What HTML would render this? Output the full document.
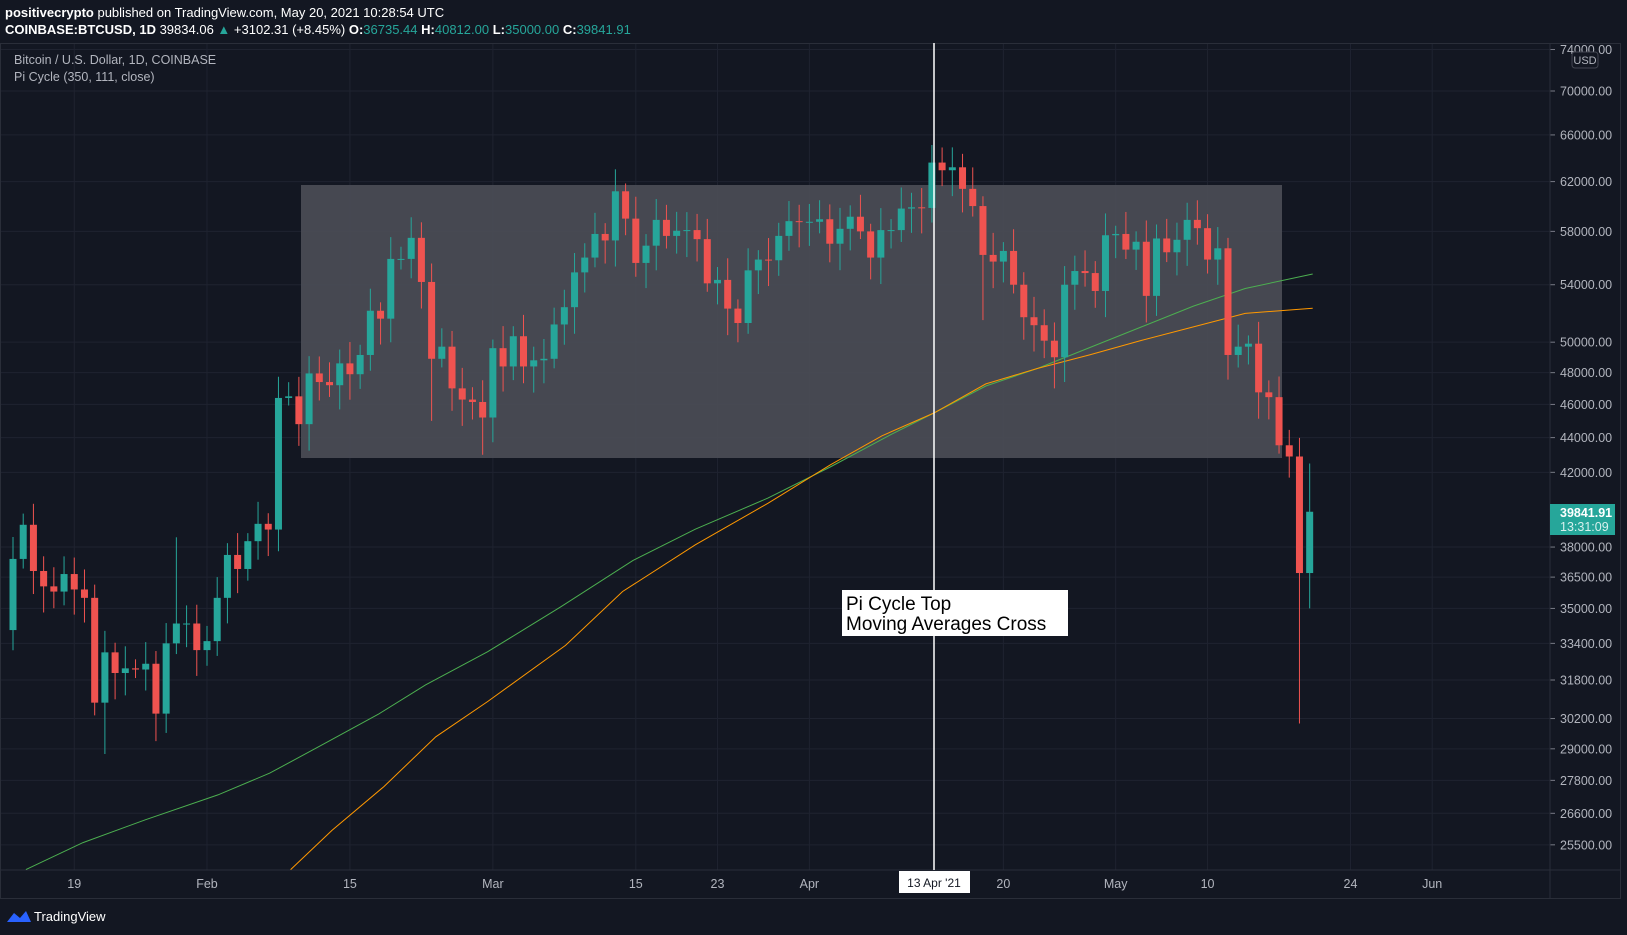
<!DOCTYPE html>
<html><head><meta charset="utf-8"><style>
body{margin:0;background:#131722;width:1627px;height:935px;overflow:hidden;font-family:"Liberation Sans",sans-serif}
svg{position:absolute;left:0;top:0}
</style></head><body>
<svg id="s" width="1627" height="935" xmlns="http://www.w3.org/2000/svg"></svg>
<script>
const S=document.getElementById('s');let h='';
const Y=p=>91+746.5*(Math.log(70000)-Math.log(p));
const X=i=>13+i*10.21;
h+='<rect x="0" y="0" width="1627" height="935" fill="#131722"/>';
const prices=[74000,70000,66000,62000,58000,54000,50000,48000,46000,44000,42000,38000,36500,35000,33400,31800,30200,29000,27800,26600,25500];
prices.forEach(p=>{let y=Y(p);h+=`<line x1="0" x2="1550" y1="${y}" y2="${y}" stroke="#1f2330"/><line x1="1550" x2="1555" y1="${y}" y2="${y}" stroke="#787b86"/><text x="1560" y="${y+4.5}" font-size="12.5" fill="#b2b5be">${p}.00</text>`;});
const dates=[[6,'19'],[19,'Feb'],[33,'15'],[47,'Mar'],[61,'15'],[69,'23'],[78,'Apr'],[97,'20'],[108,'May'],[117,'10'],[131,'24'],[139,'Jun']];
dates.forEach(d=>{let x=X(d[0]);h+=`<line x1="${x}" x2="${x}" y1="43" y2="870" stroke="#1f2330"/><text x="${x}" y="888" font-size="12.5" fill="#b2b5be" text-anchor="middle">${d[1]}</text>`;});
h+='<rect x="0.5" y="43.5" width="1620" height="855" fill="none" stroke="#2a2e39"/><line x1="1550" x2="1550" y1="43" y2="898" stroke="#2a2e39"/><line x1="0" x2="1620" y1="870" y2="870" stroke="#2a2e39"/>';
h+=`<rect x="301" y="185" width="981" height="273" fill="#4b4d56" fill-opacity="0.92"/>`;
const g=[[25,838],[80,812],[140,790],[210,766],[260,745],[310,718],[365,688],[410,660],[470,628],[540,585],[610,540],[670,510],[740,480],[800,450],[860,418],[900,398],[950,372],[1000,355],[1050,335],[1100,315],[1150,295],[1200,278],[1265,264]];
const o=[[280,838],[320,800],[370,758],[420,710],[470,676],[545,622],[600,570],[670,525],[740,485],[800,448],[850,420],[900,398],[950,370],[1000,355],[1050,342],[1100,328],[1150,315],[1200,302],[1265,297]];
const pl=a=>a.map(p=>(p[0]*1.0377).toFixed(1)+','+(p[1]*1.0377).toFixed(1)).join(' ');
h+=`<polyline points="${pl(g)}" fill="none" stroke="#4caf50" stroke-width="1"/><polyline points="${pl(o)}" fill="none" stroke="#ff9800" stroke-width="1"/>`;
const c=[34000,37400,39150,36800,36050,35800,36650,35900,35500,30850,33000,32100,32300,32250,32500,30400,33400,34300,34300,33100,33500,35500,37600,36900,38300,39200,38900,46400,46500,44800,47950,47400,47200,48600,47900,49150,52150,51600,55900,55900,57500,54200,48900,49700,47000,46300,46150,45200,49600,48400,50400,48400,48800,48900,51200,52400,54900,56000,57800,57300,61200,59000,55600,56900,58900,57650,58050,58100,57400,54100,54350,52300,51300,55050,55850,55800,57650,58800,58750,58750,58950,57050,58200,59150,58000,56000,58100,58100,59800,59900,59850,63600,62950,63200,61400,60000,56200,55700,56500,54000,51700,51150,50100,49000,54000,55000,54850,53550,57700,57800,56600,57200,53200,57450,56400,57350,58900,58250,55850,56700,49150,49700,49900,46750,46450,43550,42900,36700,39840];
const wick={16:[38500,null],41:[null,45000],46:[null,43000],91:[64900,null],95:[null,51500],102:[null,47000],126:[null,30000],127:[42500,35000],9:[null,28800],14:[null,29300]};
for(let i=1;i<c.length;i++){let op=c[i-1],cl=c[i],hi=Math.max(op,cl)*(1+0.01+0.02*Math.abs(Math.sin(i*1.7))),lo=Math.min(op,cl)*(1-0.01-0.025*Math.abs(Math.cos(i*2.3)));
let w=wick[i-1];if(w){if(w[0])hi=w[0];if(w[1])lo=w[1];}
let x=X(i-1),col=cl>=op?'#26a69a':'#ef5350',y1=Y(Math.max(op,cl)),y2=Y(Math.min(op,cl));
h+=`<line x1="${x}" x2="${x}" y1="${Y(hi)}" y2="${Y(lo)}" stroke="${col}"/><rect x="${x-3.5}" y="${y1}" width="7" height="${Math.max(1,y2-y1)}" fill="${col}"/>`;}
h+='<line x1="934" x2="934" y1="43" y2="870" stroke="#fff" stroke-width="1.5"/>';
h+='<rect x="899" y="871" width="71" height="22" fill="#fff"/><text x="934" y="887" font-size="12" fill="#131722" text-anchor="middle">13 Apr \'21</text>';
h+='<rect x="842" y="590" width="226" height="46" fill="#fff"/><text x="846" y="610" font-size="19" fill="#000">Pi Cycle Top</text><text x="846" y="630" font-size="19" fill="#000">Moving Averages Cross</text>';
h+='<rect x="1550" y="504" width="65" height="31" fill="#26a69a"/><text x="1560" y="517" font-size="12.5" fill="#fff" font-weight="bold">39841.91</text><text x="1560" y="531" font-size="12.5" fill="#d8f0ee">13:31:09</text>';
h+='<rect x="1572" y="52" width="26" height="16" rx="3" fill="#131722" stroke="#434651"/><text x="1585" y="64" font-size="11" fill="#b2b5be" text-anchor="middle">USD</text>';
h+='<text x="5" y="17" font-size="13" fill="#fff"><tspan font-weight="bold">positivecrypto</tspan> published on TradingView.com, May 20, 2021 10:28:54 UTC</text>';
h+='<text x="5" y="34" font-size="13" fill="#fff"><tspan font-weight="bold">COINBASE:BTCUSD, 1D</tspan> 39834.06 <tspan fill="#26a69a">▲</tspan> +3102.31 (+8.45%) <tspan font-weight="bold">O:</tspan><tspan fill="#26a69a">36735.44</tspan> <tspan font-weight="bold">H:</tspan><tspan fill="#26a69a">40812.00</tspan> <tspan font-weight="bold">L:</tspan><tspan fill="#26a69a">35000.00</tspan> <tspan font-weight="bold">C:</tspan><tspan fill="#26a69a">39841.91</tspan></text>';
h+='<text x="14" y="64" font-size="12.5" fill="#b2b5be">Bitcoin / U.S. Dollar, 1D, COINBASE</text><text x="14" y="81" font-size="12.5" fill="#b2b5be">Pi Cycle (350, 111, close)</text>';
h+='<path d="M7 922 L14 913 L20 918 L26 911 L31 922 Z" fill="#2962ff"/><text x="34" y="921" font-size="13" fill="#fff">TradingView</text>';
S.innerHTML=h;
</script>
</body></html>
